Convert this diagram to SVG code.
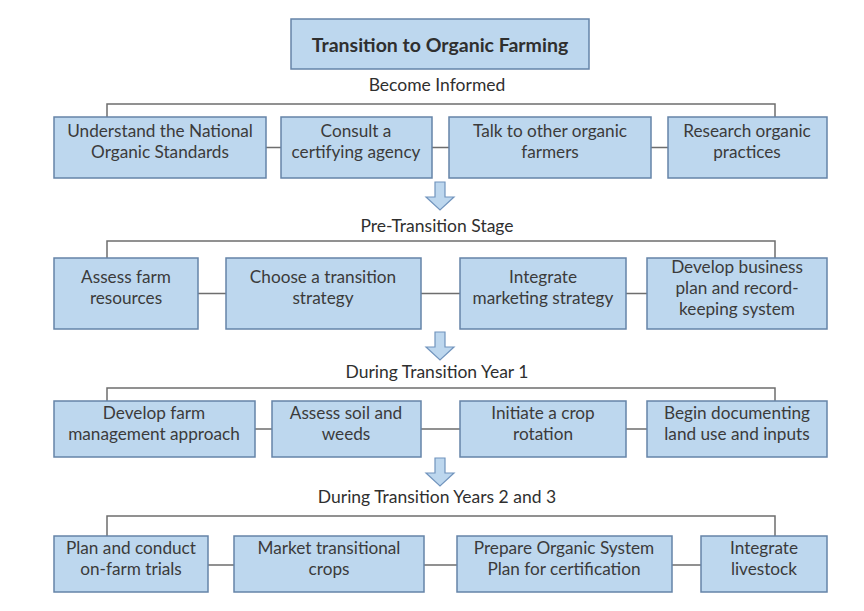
<svg xmlns="http://www.w3.org/2000/svg" width="864" height="611" viewBox="0 0 864 611">
<style>
.box{fill:#bdd7ee;stroke:#6584a8;stroke-width:1.5}
.t{font-family:Lato,"Liberation Sans",sans-serif;font-size:17.2px;fill:#3b3b3b;text-anchor:middle}
.title{font-family:Lato,"Liberation Sans",sans-serif;font-size:19.5px;font-weight:bold;fill:#2f2f2f;text-anchor:middle}
.lbl{font-family:Lato,"Liberation Sans",sans-serif;font-size:17.5px;fill:#2f2f2f;text-anchor:middle}
.ln{fill:none;stroke:#6e6e6e;stroke-width:1.5}
.arr{fill:#bdd7ee;stroke:#7194bd;stroke-width:1.2}
</style>
<defs>
<path id="darrow" d="M-5,0 H5 V15 H14 L0,28 L-14,15 H-5 Z"/>
</defs>
<rect width="864" height="611" fill="#ffffff"/>

<g id="connectors">
<path class="ln" d="M107,117 V104 H775 V117"/>
<path class="ln" d="M266,147.5 H281 M432,147.5 H449 M651,147.5 H668"/>
<path class="ln" d="M107,258 V241 H775 V258"/>
<path class="ln" d="M198,293.5 H226 M421,293.5 H460 M626,293.5 H647"/>
<path class="ln" d="M107,401 V388 H775 V401"/>
<path class="ln" d="M255,429 H272 M421,429 H460 M626,429 H647"/>
<path class="ln" d="M107,536 V516 H775 V536"/>
<path class="ln" d="M208,565 H234 M424,565 H457 M672,565 H701"/>
<use href="#darrow" class="arr" x="440" y="182"/>
<use href="#darrow" class="arr" x="440" y="332"/>
<use href="#darrow" class="arr" x="440" y="458"/>
</g>

<g id="title"><rect class="box" x="291" y="19" width="298" height="50"/><text class="title" x="440" y="52">Transition to Organic Farming</text></g>

<g id="stage1"><text class="lbl" x="437" y="91">Become Informed</text></g>
<g id="n1a"><rect class="box" x="54" y="117" width="212" height="61"/><text class="t" x="160" y="137">Understand the National</text><text class="t" x="160" y="158">Organic Standards</text></g>
<g id="n1b"><rect class="box" x="281" y="117" width="151" height="61"/><text class="t" x="356" y="137">Consult a</text><text class="t" x="356" y="158">certifying agency</text></g>
<g id="n1c"><rect class="box" x="449" y="117" width="202" height="61"/><text class="t" x="550" y="137">Talk to other organic</text><text class="t" x="550" y="158">farmers</text></g>
<g id="n1d"><rect class="box" x="668" y="117" width="159" height="61"/><text class="t" x="747" y="137">Research organic</text><text class="t" x="747" y="158">practices</text></g>

<g id="stage2"><text class="lbl" x="437" y="232">Pre-Transition Stage</text></g>
<g id="n2a"><rect class="box" x="54" y="258" width="144" height="71"/><text class="t" x="126" y="283">Assess farm</text><text class="t" x="126" y="304">resources</text></g>
<g id="n2b"><rect class="box" x="226" y="258" width="195" height="71"/><text class="t" x="323" y="283">Choose a transition</text><text class="t" x="323" y="304">strategy</text></g>
<g id="n2c"><rect class="box" x="460" y="258" width="166" height="71"/><text class="t" x="543" y="283">Integrate</text><text class="t" x="543" y="304">marketing strategy</text></g>
<g id="n2d"><rect class="box" x="647" y="258" width="180" height="71"/><text class="t" x="737" y="273">Develop business</text><text class="t" x="737" y="294">plan and record-</text><text class="t" x="737" y="315">keeping system</text></g>

<g id="stage3"><text class="lbl" x="437" y="378">During Transition Year 1</text></g>
<g id="n3a"><rect class="box" x="54" y="401" width="201" height="56"/><text class="t" x="154" y="419">Develop farm</text><text class="t" x="154" y="440">management approach</text></g>
<g id="n3b"><rect class="box" x="272" y="401" width="149" height="56"/><text class="t" x="346" y="419">Assess soil and</text><text class="t" x="346" y="440">weeds</text></g>
<g id="n3c"><rect class="box" x="460" y="401" width="166" height="56"/><text class="t" x="543" y="419">Initiate a crop</text><text class="t" x="543" y="440">rotation</text></g>
<g id="n3d"><rect class="box" x="647" y="401" width="180" height="56"/><text class="t" x="737" y="419">Begin documenting</text><text class="t" x="737" y="440">land use and inputs</text></g>

<g id="stage4"><text class="lbl" x="437" y="503">During Transition Years 2 and 3</text></g>
<g id="n4a"><rect class="box" x="54" y="536" width="154" height="56"/><text class="t" x="131" y="554">Plan and conduct</text><text class="t" x="131" y="575">on-farm trials</text></g>
<g id="n4b"><rect class="box" x="234" y="536" width="190" height="56"/><text class="t" x="329" y="554">Market transitional</text><text class="t" x="329" y="575">crops</text></g>
<g id="n4c"><rect class="box" x="457" y="536" width="215" height="56"/><text class="t" x="564" y="554">Prepare Organic System</text><text class="t" x="564" y="575">Plan for certification</text></g>
<g id="n4d"><rect class="box" x="701" y="536" width="126" height="56"/><text class="t" x="764" y="554">Integrate</text><text class="t" x="764" y="575">livestock</text></g>
</svg>
